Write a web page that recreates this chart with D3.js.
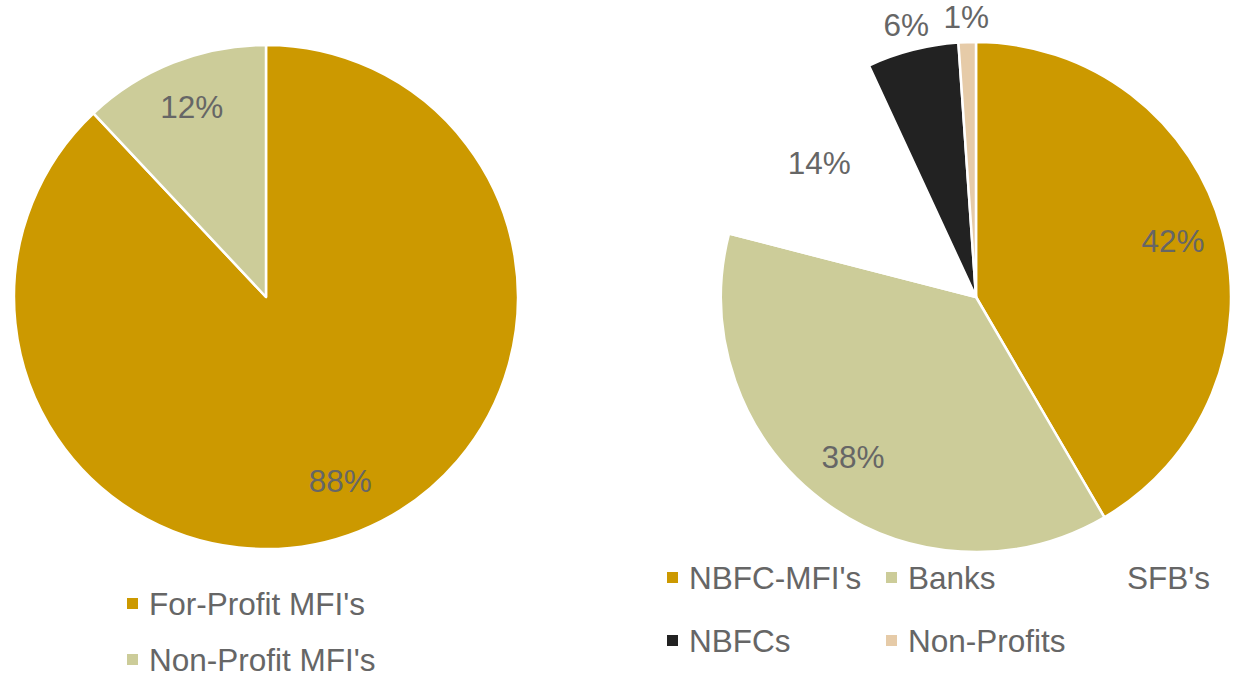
<!DOCTYPE html>
<html><head><meta charset="utf-8">
<script src="https://cdn.jsdelivr.net/npm/d3@7"></script>
<style>body{margin:0;background:#fff;}svg{display:block;font-family:"Liberation Sans",Arial,sans-serif;}</style>
</head><body>
<svg id="c" width="1234" height="674"></svg>
<script>
// Left chart
const leftCategories = ["For-Profit MFI's", "Non-Profit MFI's"];
const leftValues = [88, 12];
const leftLabels = ["88%", "12%"];
const leftColors = ["#CC9900", "#CCCC99"];

// Right chart
const rightCategories = ["NBFC-MFI's", "Banks", "SFB's", "NBFCs", "Non-Profits"];
const rightValues = [41.6, 37.4, 14.1, 5.8, 1.1];
const rightLabels = ["42%", "38%", "14%", "6%", "1%"];
const rightColors = ["#CC9900", "#CCCC99", "#FFFFFF", "#222222", "#E6CBA8"];

const svg = d3.select("#c");
const textColor = "#666666";
const fontSize = 31.5;

function drawPie(cx, cy, r, values, labels, colors) {
  const pie = d3.pie().sort(null).value(d => d);
  const arcs = pie(values);
  const total = d3.sum(values);
  const arc = d3.arc().innerRadius(0).outerRadius(r);
  const g = svg.append("g").attr("transform", `translate(${cx},${cy})`);
  g.selectAll("path").data(arcs).join("path")
    .attr("d", arc)
    .attr("fill", (d, i) => colors[i])
    .attr("stroke", "#fff").attr("stroke-width", 2.5).attr("stroke-linejoin", "round");
  g.selectAll("text").data(arcs).join("text")
    .attr("transform", d => {
      const small = d.value / total < 0.1;
      const lr = small ? r * 1.1 : r * 0.8;
      const la = d3.arc().innerRadius(lr).outerRadius(lr);
      const [x, y] = la.centroid(d);
      return `translate(${x},${y - (small ? 0 : 3)})`;
    })
    .attr("text-anchor", "middle")
    .attr("dominant-baseline", "central")
    .attr("font-size", fontSize)
    .attr("fill", textColor)
    .text((d, i) => labels[i]);
}

drawPie(266, 297, 252, leftValues, leftLabels, leftColors);
drawPie(976, 297, 255, rightValues, rightLabels, rightColors);

function legend(items, colors, x0, y0, colW, rowH, perRow) {
  const g = svg.append("g");
  items.forEach((t, i) => {
    const col = i % perRow, row = Math.floor(i / perRow);
    const x = x0 + col * colW, y = y0 + row * rowH;
    g.append("rect").attr("x", x).attr("y", y - 6).attr("width", 11).attr("height", 11).attr("fill", colors[i]);
    g.append("text").attr("x", x + 22).attr("y", y).attr("dominant-baseline", "central")
      .attr("font-size", fontSize).attr("fill", textColor).text(t);
  });
}
legend(leftCategories, leftColors, 127, 604, 0, 56, 1);
legend(rightCategories, rightColors, 667, 578, 219, 63, 3);
</script>
</body></html>
